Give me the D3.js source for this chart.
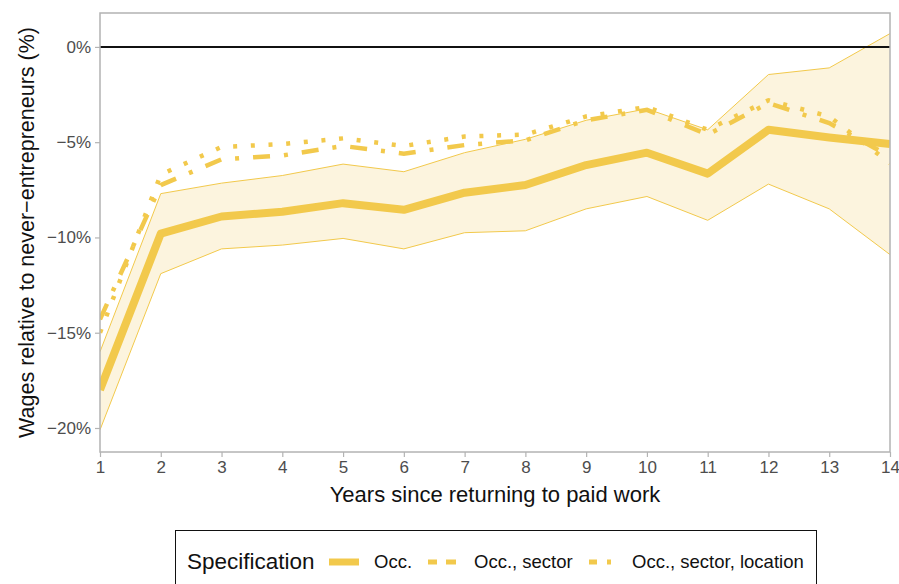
<!DOCTYPE html>
<html>
<head>
<meta charset="utf-8">
<script src="https://cdn.jsdelivr.net/npm/d3@7"></script>
<style>
  body { margin: 0; background: #fff; }
  text { font-family: "Liberation Sans", Arial, sans-serif; }
</style>
</head>
<body>
<div id="chart"></div>
<script>
const years = [1, 2, 3, 4, 5, 6, 7, 8, 9, 10, 11, 12, 13, 14];
const occ = [-18.0, -9.8, -8.9, -8.65, -8.2, -8.55, -7.65, -7.25, -6.2, -5.55, -6.65, -4.35, -4.75, -5.1];
const occLow = [-20.1, -11.9, -10.6, -10.4, -10.05, -10.6, -9.75, -9.65, -8.5, -7.85, -9.1, -7.2, -8.5, -10.9];
const occHigh = [-16.0, -7.7, -7.15, -6.75, -6.15, -6.55, -5.55, -4.85, -3.85, -3.25, -4.35, -1.45, -1.1, 0.7];
const occSector = [-14.3, -7.25, -5.9, -5.7, -5.2, -5.6, -5.15, -4.9, -3.85, -3.3, -4.6, -2.95, -4.0, -5.75];
const occSectorLoc = [-15.0, -6.7, -5.25, -5.1, -4.8, -5.2, -4.7, -4.6, -3.65, -3.15, -4.35, -2.8, -3.65, -6.1];
const yTicks = [0, -5, -10, -15, -20];
const legendLabels = ["Occ.", "Occ., sector", "Occ., sector, location"];

const W = 899, H = 584;
const mLeft = 100, mRight = 890, mTop = 13, mBottom = 452;
const gold = "#F2C94C";

const svg = d3.select("#chart").append("svg")
  .attr("width", W).attr("height", H);

const x = d3.scaleLinear().domain([1, 14]).range([mLeft, mRight]);
const y = d3.scaleLinear().domain([-21.26, 1.78]).range([mBottom, mTop]);

svg.append("clipPath").attr("id", "clip")
  .append("rect").attr("x", mLeft).attr("y", mTop)
  .attr("width", mRight - mLeft).attr("height", mBottom - mTop);

const plot = svg.append("g").attr("clip-path", "url(#clip)");

// ribbon
const area = d3.area()
  .x((d, i) => x(years[i]))
  .y0((d, i) => y(occLow[i]))
  .y1((d, i) => y(occHigh[i]));
plot.append("path").datum(occ)
  .attr("d", area)
  .attr("fill", "#FCF4DE");

const line = d3.line().x((d, i) => x(years[i])).y(d => y(d));

[occLow, occHigh].forEach(s => {
  plot.append("path").datum(s).attr("d", line)
    .attr("fill", "none").attr("stroke", gold).attr("stroke-width", 1);
});

// zero line
plot.append("line")
  .attr("x1", mLeft).attr("x2", mRight)
  .attr("y1", y(0)).attr("y2", y(0))
  .attr("stroke", "#111").attr("stroke-width", 2);

const styles = [
  { data: occ, width: 8, dash: null },
  { data: occSector, width: 4.5, dash: "17,14,4,14" },
  { data: occSectorLoc, width: 4.5, dash: "4,13.7" }
];

plot.append("path").datum(occSectorLoc).attr("d", line)
  .attr("fill", "none").attr("stroke", gold)
  .attr("stroke-width", styles[2].width).attr("stroke-dasharray", styles[2].dash);
plot.append("path").datum(occSector).attr("d", line)
  .attr("fill", "none").attr("stroke", gold)
  .attr("stroke-width", styles[1].width).attr("stroke-dasharray", styles[1].dash);
plot.append("path").datum(occ).attr("d", line)
  .attr("fill", "none").attr("stroke", gold)
  .attr("stroke-width", styles[0].width).attr("stroke-linejoin", "round");

// panel border
svg.append("rect")
  .attr("x", mLeft).attr("y", mTop)
  .attr("width", mRight - mLeft).attr("height", mBottom - mTop)
  .attr("fill", "none").attr("stroke", "#b3b3b3").attr("stroke-width", 1.5);

// axes
const xAxis = svg.append("g")
  .attr("transform", `translate(0,${mBottom})`)
  .call(d3.axisBottom(x).tickValues(years).tickSize(5).tickPadding(4).tickFormat(d3.format("d")));
const yAxis = svg.append("g")
  .attr("transform", `translate(${mLeft},0)`)
  .call(d3.axisLeft(y).tickValues(yTicks).tickSize(5).tickPadding(4)
    .tickFormat(d => (d < 0 ? "\u2212" + Math.abs(d) : d) + "%"));

[xAxis, yAxis].forEach(a => {
  a.select(".domain").remove();
  a.selectAll(".tick line").attr("stroke", "#b3b3b3").attr("stroke-width", 1.2);
  a.selectAll(".tick text").attr("fill", "#4d4d4d").style("font-size", "17px");
});

svg.append("text")
  .attr("x", (mLeft + mRight) / 2).attr("y", 502)
  .attr("text-anchor", "middle")
  .style("font-size", "22px").attr("fill", "#111")
  .text("Years since returning to paid work");

svg.append("text")
  .attr("transform", `translate(34,${(mTop + mBottom) / 2}) rotate(-90)`)
  .attr("text-anchor", "middle")
  .style("font-size", "21.5px").attr("fill", "#111")
  .text("Wages relative to never\u2212entrepreneurs (%)");

// legend
const lg = svg.append("g");
lg.append("rect")
  .attr("x", 175.5).attr("y", 530.5).attr("width", 641).attr("height", 70)
  .attr("fill", "#fff").attr("stroke", "#111").attr("stroke-width", 1);
lg.append("text").attr("x", 187).attr("y", 569)
  .style("font-size", "22.5px").attr("fill", "#111").text("Specification");

const keyX = [329, 428, 589];
const textX = [374, 474, 632];
legendLabels.forEach((lab, i) => {
  lg.append("line")
    .attr("x1", keyX[i]).attr("x2", keyX[i] + 30)
    .attr("y1", 562).attr("y2", 562)
    .attr("stroke", gold)
    .attr("stroke-width", i === 0 ? 7 : 5)
    .attr("stroke-dasharray", i === 0 ? null : (i === 1 ? "9,9,10,10" : "8,10,4,10"));
  lg.append("text").attr("x", textX[i]).attr("y", 568)
    .style("font-size", "18.5px").attr("fill", "#111").text(lab);
});
</script>
</body>
</html>
